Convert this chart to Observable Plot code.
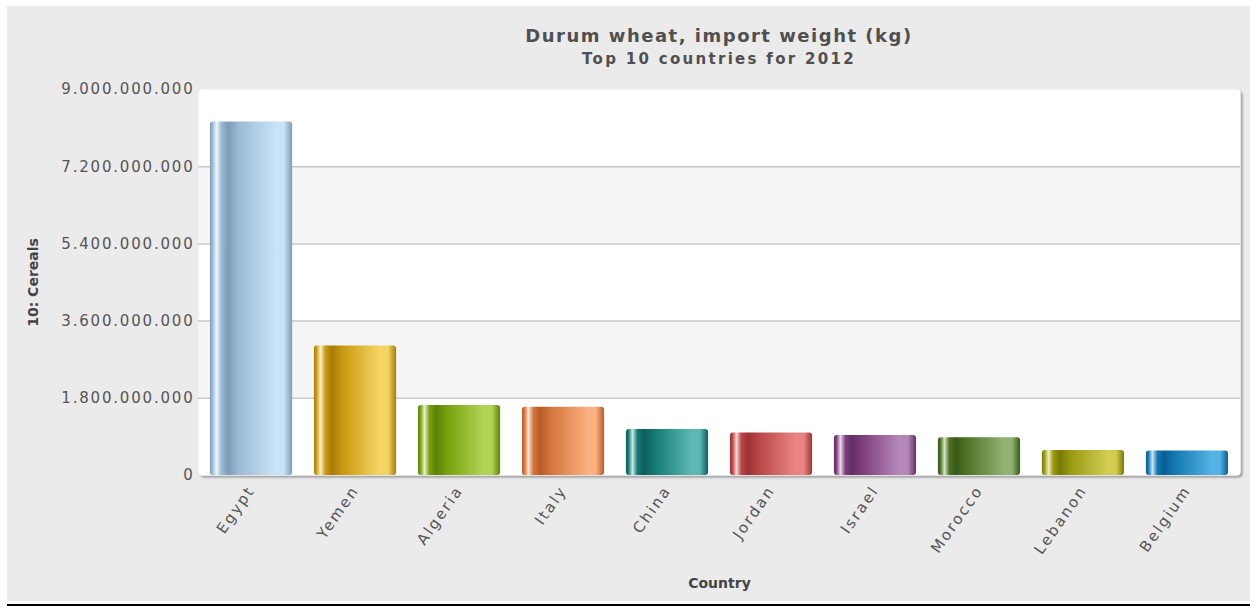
<!DOCTYPE html>
<html>
<head>
<meta charset="utf-8">
<script src="https://cdn.jsdelivr.net/npm/d3@7"></script>
<script src="https://cdn.jsdelivr.net/npm/@observablehq/plot@0.6"></script>
<style>
  html, body { margin: 0; padding: 0; background: #ffffff; }
  #panel {
    position: absolute; left: 7px; top: 6px; width: 1243px; height: 595px;
    background: #ebebeb; font-family: "DejaVu Sans", Verdana, sans-serif;
  }
  #rule { position: absolute; left: 7px; top: 604px; width: 1243px; height: 2px; background: #000; }
  .head { position: absolute; left: 191px; width: 1042px; text-align: center; color: #505050; font-weight: bold; white-space: nowrap; }
  #title { top: 21px; font-size: 18px; line-height: 18px; letter-spacing: 1.5px; }
  #subtitle { top: 46px; font-size: 15px; line-height: 15px; letter-spacing: 2.3px; }
  #chart { position: absolute; left: 0; top: 70px; }
  #chart svg g[aria-label="y-axis tick label"] text { letter-spacing: 1.8px; }
  #chart svg g[aria-label="x-axis tick label"] text { letter-spacing: 2.2px; }
  #chart svg g[aria-label="axis-title"] text { letter-spacing: 1.4px; }
</style>
</head>
<body>
<div id="panel">
  <div id="title" class="head">Durum wheat, import weight (kg)</div>
  <div id="subtitle" class="head">Top 10 countries for 2012</div>
  <div id="chart"></div>
</div>
<div id="rule"></div>
<script>
// Durum wheat imports, 2012 (kg)
const countries = ["Egypt", "Yemen", "Algeria", "Italy", "China", "Jordan", "Israel", "Morocco", "Lebanon", "Belgium"];
const importKg = [8.24e9, 3.02e9, 1.63e9, 1.59e9, 1.07e9, 0.99e9, 0.93e9, 0.88e9, 0.58e9, 0.57e9];

// Value axis
const yTicks = [0, 1.8e9, 3.6e9, 5.4e9, 7.2e9, 9e9];
const shadedBands = [[1.8e9, 3.6e9], [5.4e9, 7.2e9]];
const yLabel = "10: Cereals";
const xLabel = "Country";

// Cylinder shading per bar: edge, base, light side, highlight stripe
const barDark = ["#7d9bb5", "#a67c08", "#5d8206", "#b85a28", "#0b5f5a", "#9e3434", "#632e63", "#3a5a18", "#7a7a08", "#0a5e90"];
const barBase = ["#9bbad5", "#c99a12", "#77a00e", "#d2753c", "#137a74", "#b94646", "#7e3f7e", "#4d7325", "#9a9a12", "#1378b2"];
const barLight = ["#c8e3f7", "#f5d464", "#b2d454", "#fdb080", "#5cb8b2", "#ea8484", "#b688ba", "#92b272", "#d2cd52", "#55b2e4"];
const barHighlight = ["#eef6fc", "#fdf1c4", "#e4f1c6", "#fee4d2", "#c8e8e6", "#f9d4d4", "#e8d6ea", "#d6e4c8", "#f0edb8", "#c8e6f8"];

const data = countries.map((country, i) => ({country, value: importKg[i]}));
const fmt = d => d3.format(",")(d).replace(/,/g, ".");

const chart = Plot.plot({
  width: 1243,
  height: 526,
  marginLeft: 191,
  marginRight: 10,
  marginTop: 13,
  marginBottom: 127,
  style: {fontFamily: "DejaVu Sans, Verdana, sans-serif", fontSize: "15px", color: "#555", background: "transparent", overflow: "visible"},
  x: {domain: countries, paddingInner: 0.21, paddingOuter: 0.115, round: false, label: null},
  y: {domain: [0, 9e9], label: null},
  color: {domain: countries, range: countries.map((_, i) => `url(#bar-grad-${i})`)},
  marks: [
    Plot.frame({fill: "white", rx: 4, ariaLabel: "plot-bg"}),
    Plot.rect(shadedBands, {y1: d => d[0], y2: d => d[1], fill: "#f5f5f5"}),
    Plot.ruleY(yTicks.filter(t => t > 0 && t < 9e9), {stroke: "#c8c8c8", strokeWidth: 1.5}),
    Plot.barY(data, {x: "country", y: "value", fill: "country", rx: 3, ariaLabel: "bars"}),
    Plot.axisY({ticks: yTicks, tickFormat: fmt, tickSize: 0, tickPadding: 4, fontSize: 15, fill: "#555"}),
    Plot.axisX({tickSize: 0, tickPadding: 12, tickRotate: -55, fontSize: 15, fill: "#555"}),
    Plot.text([yLabel], {frameAnchor: "left", dx: -165, rotate: -90, textAnchor: "middle", text: d => d, fontWeight: "bold", fontSize: 14, fill: "#444", ariaLabel: "axis-title"}),
    Plot.text([xLabel], {frameAnchor: "bottom", dy: 112, lineAnchor: "bottom", text: d => d, fontWeight: "bold", fontSize: 14, fill: "#444", ariaLabel: "axis-title"})
  ]
});

// Gradients and soft drop shadow
const svg = d3.select(chart);
const defs = svg.insert("defs", ":first-child");
countries.forEach((_, i) => {
  const g = defs.append("linearGradient").attr("id", `bar-grad-${i}`).attr("x1", 0).attr("x2", 1).attr("y1", 0).attr("y2", 0);
  [[0, barDark[i]], [0.03, barBase[i]], [0.08, barHighlight[i]], [0.14, barBase[i]], [0.22, barDark[i]], [0.35, barBase[i]],
   [0.8, barLight[i]], [0.9, barLight[i]], [1, barDark[i]]]
    .forEach(([o, c]) => g.append("stop").attr("offset", o).attr("stop-color", c));
});
const f = defs.append("filter").attr("id", "soft-shadow").attr("x", "-10%").attr("y", "-10%").attr("width", "130%").attr("height", "130%");
f.append("feDropShadow").attr("dx", 2).attr("dy", 2).attr("stdDeviation", 1.2).attr("flood-color", "#000").attr("flood-opacity", 0.35);
svg.selectAll('rect[aria-label="plot-bg"], g[aria-label="plot-bg"] rect').attr("filter", "url(#soft-shadow)");
svg.selectAll('g[aria-label="bars"] rect').attr("filter", "url(#soft-shadow)");

document.getElementById("chart").appendChild(chart);
</script>
</body>
</html>
